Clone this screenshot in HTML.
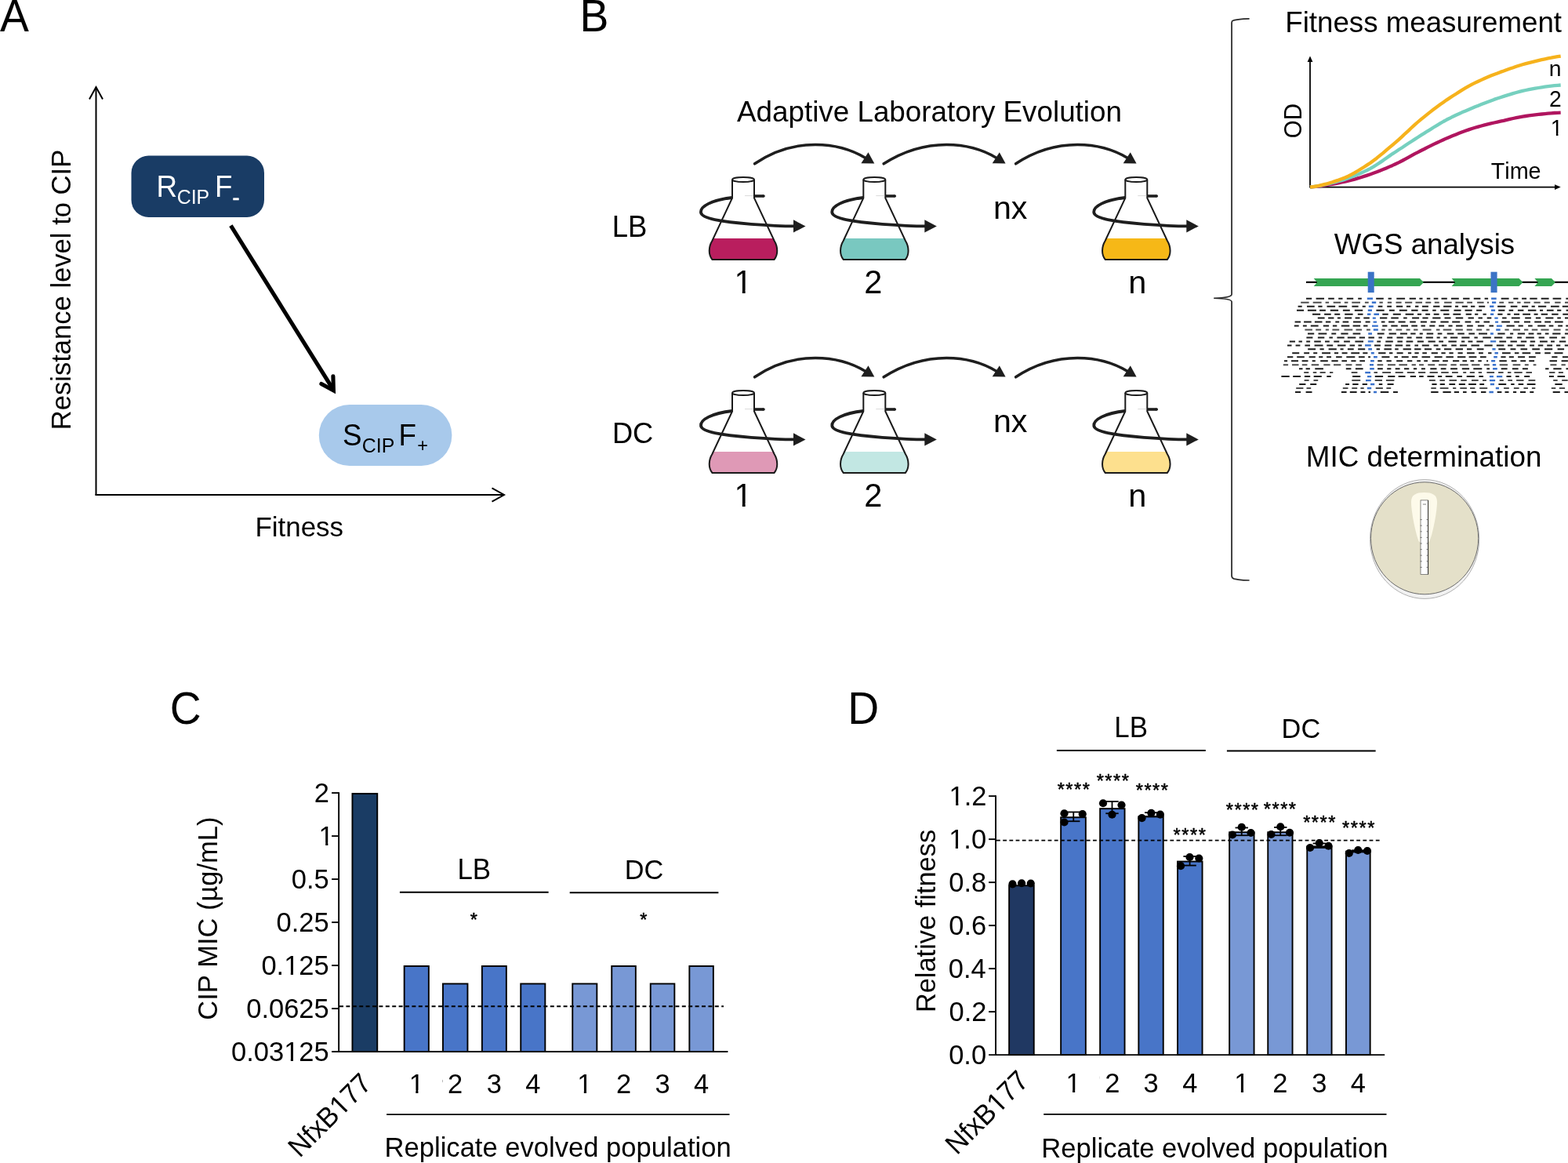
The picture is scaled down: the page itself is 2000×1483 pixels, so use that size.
<!DOCTYPE html>
<html><head><meta charset="utf-8"><title>Figure</title>
<style>html,body{margin:0;padding:0;background:#fff;} svg{display:block;} text{font-family:'Liberation Sans', Arial, sans-serif;font-kerning:none;}</style>
</head><body>
<svg width="2000" height="1483" viewBox="0 0 2000 1483">
<rect width="2000" height="1483" fill="#fff"/>
<g transform="matrix(1,0,0,1.041,0,-1.640)"><text x="-0.11" y="40.00" font-size="55.3" fill="#000" >A</text></g>
<g stroke="#000" stroke-width="2" fill="none">
<line x1="122.5" y1="111" x2="122.5" y2="631.5"/>
<polyline points="114,126.5 122.5,111 131,126.5"/>
<line x1="121.5" y1="631" x2="642" y2="631"/>
<polyline points="627.5,622.3 643,631 627.5,639.7"/>
</g>
<rect x="167.5" y="198.5" width="169.5" height="78.5" rx="22" fill="#193c65"/>
<rect x="406.8" y="516" width="169.6" height="78" rx="39" fill="#a8c9eb"/>
<g transform="matrix(1,0,0,1.041,0,-10.299)"><text x="199.48" y="251.20" font-size="36.8" fill="#fff" >R</text></g>
<g transform="matrix(1,0,0,1.041,0,-10.660)"><text x="225.74" y="260.00" font-size="24.9" fill="#fff" >CIP</text></g>
<g transform="matrix(1,0,0,1.041,0,-10.299)"><text x="273.98" y="251.20" font-size="36.8" fill="#fff" >F</text></g>
<g transform="matrix(1,0,0,1.041,0,-10.709)"><text x="296.40" y="261.20" font-size="27" fill="#fff" stroke="#fff" stroke-width="0.6">-</text></g>
<g transform="matrix(1,0,0,1.041,0,-23.300)"><text x="437.03" y="568.30" font-size="36.8" fill="#000" >S</text></g>
<g transform="matrix(1,0,0,1.041,0,-23.657)"><text x="461.74" y="577.00" font-size="24.9" fill="#000" >CIP</text></g>
<g transform="matrix(1,0,0,1.041,0,-23.300)"><text x="508.48" y="568.30" font-size="36.8" fill="#000" >F</text></g>
<g transform="matrix(1,0,0,1.041,0,-23.616)"><text x="532.15" y="576.00" font-size="23.5" fill="#000" >+</text></g>
<line x1="294.4" y1="287.7" x2="424.6" y2="496.2" stroke="#000" stroke-width="5.1"/>
<polyline points="409.9,489.4 425.4,497.9 424.9,479.9" fill="none" stroke="#000" stroke-width="5.1" stroke-linecap="round" stroke-linejoin="miter" stroke-miterlimit="10"/>
<text x="325.54" y="684.10" font-size="34.9" fill="#000" >Fitness</text>
<g transform="translate(89.70,548.24) rotate(-90)"><text x="0.00" y="0.00" font-size="34.6" fill="#000" >Resistance level to CIP</text></g>
<g transform="matrix(1,0,0,1.041,0,-1.640)"><text x="739.46" y="40.00" font-size="55.3" fill="#000" >B</text></g>
<text x="940.03" y="155.30" font-size="36.8" fill="#000" >Adaptive Laboratory Evolution</text>
<path d="M962.6,208.8 Q998.0,184.5 1040.0,184.5 Q1076.0,184.5 1104.0,201.5" fill="none" stroke="#1e1e1e" stroke-width="3.5" stroke-linecap="round"/>
<polygon points="1098.4,208.3 1107.5,194.2 1115.3,208.4" fill="#1e1e1e"/>
<path d="M1127.2,208.8 Q1165.3,184.5 1207.3,184.5 Q1243.3,184.5 1271.3,201.5" fill="none" stroke="#1e1e1e" stroke-width="3.5" stroke-linecap="round"/>
<polygon points="1265.7,208.3 1274.8,194.2 1282.6,208.4" fill="#1e1e1e"/>
<path d="M1295.6,208.8 Q1332.3,184.5 1374.3,184.5 Q1410.3,184.5 1438.3,201.5" fill="none" stroke="#1e1e1e" stroke-width="3.5" stroke-linecap="round"/>
<polygon points="1432.7,208.3 1441.8,194.2 1449.6,208.4" fill="#1e1e1e"/>
<path d="M909.8,304.0 L908.4,307.0 C903.5,315.0 903.5,325.0 908.5,331.0 L987.5,331.0 C992.5,325.0 992.5,315.0 987.6,307.0 L986.2,304.0 Z" fill="#b91e5e"/>
<path d="M934.0,229.0 L934.0,252.5 L908.4,307.0 C903.5,315.0 903.5,325.0 908.5,331.0 L987.5,331.0 C992.5,325.0 992.5,315.0 987.6,307.0 L962.0,252.5 L962.0,229.0" fill="none" stroke="#1a1a1a" stroke-width="2" stroke-linejoin="round"/>
<ellipse cx="948.0" cy="229.0" rx="14" ry="3" fill="#fff" stroke="#1a1a1a" stroke-width="1.8"/>
<line x1="950.0" y1="249.6" x2="961.0" y2="249.6" stroke="#cfcfcf" stroke-width="0.8"/>
<line x1="962.2" y1="250.0" x2="974.0" y2="250.0" stroke="#1e1e1e" stroke-width="3.6"/><circle cx="974.0" cy="250.0" r="1.8" fill="#1e1e1e"/>
<path d="M934.0,252.0 C908.0,255.0 893.0,263.0 894.0,271.0 C895.0,279.0 923.0,283.0 958.0,285.8 C983.0,287.6 998.0,288.3 1013.0,288.4" fill="none" stroke="#1e1e1e" stroke-width="3.8"/>
<polygon points="1012.0,280.3 1027.5,288.4 1012.0,296.5" fill="#1e1e1e"/>
<path d="M1077.1,304.0 L1075.7,307.0 C1070.8,315.0 1070.8,325.0 1075.8,331.0 L1154.8,331.0 C1159.8,325.0 1159.8,315.0 1154.9,307.0 L1153.5,304.0 Z" fill="#79c8c0"/>
<path d="M1101.3,229.0 L1101.3,252.5 L1075.7,307.0 C1070.8,315.0 1070.8,325.0 1075.8,331.0 L1154.8,331.0 C1159.8,325.0 1159.8,315.0 1154.9,307.0 L1129.3,252.5 L1129.3,229.0" fill="none" stroke="#1a1a1a" stroke-width="2" stroke-linejoin="round"/>
<ellipse cx="1115.3" cy="229.0" rx="14" ry="3" fill="#fff" stroke="#1a1a1a" stroke-width="1.8"/>
<line x1="1117.3" y1="249.6" x2="1128.3" y2="249.6" stroke="#cfcfcf" stroke-width="0.8"/>
<line x1="1129.5" y1="250.0" x2="1141.3" y2="250.0" stroke="#1e1e1e" stroke-width="3.6"/><circle cx="1141.3" cy="250.0" r="1.8" fill="#1e1e1e"/>
<path d="M1101.3,252.0 C1075.3,255.0 1060.3,263.0 1061.3,271.0 C1062.3,279.0 1090.3,283.0 1125.3,285.8 C1150.3,287.6 1165.3,288.3 1180.3,288.4" fill="none" stroke="#1e1e1e" stroke-width="3.8"/>
<polygon points="1179.3,280.3 1194.8,288.4 1179.3,296.5" fill="#1e1e1e"/>
<path d="M1411.1,304.0 L1409.7,307.0 C1404.8,315.0 1404.8,325.0 1409.8,331.0 L1488.8,331.0 C1493.8,325.0 1493.8,315.0 1488.9,307.0 L1487.5,304.0 Z" fill="#f6b817"/>
<path d="M1435.3,229.0 L1435.3,252.5 L1409.7,307.0 C1404.8,315.0 1404.8,325.0 1409.8,331.0 L1488.8,331.0 C1493.8,325.0 1493.8,315.0 1488.9,307.0 L1463.3,252.5 L1463.3,229.0" fill="none" stroke="#1a1a1a" stroke-width="2" stroke-linejoin="round"/>
<ellipse cx="1449.3" cy="229.0" rx="14" ry="3" fill="#fff" stroke="#1a1a1a" stroke-width="1.8"/>
<line x1="1451.3" y1="249.6" x2="1462.3" y2="249.6" stroke="#cfcfcf" stroke-width="0.8"/>
<line x1="1463.5" y1="250.0" x2="1475.3" y2="250.0" stroke="#1e1e1e" stroke-width="3.6"/><circle cx="1475.3" cy="250.0" r="1.8" fill="#1e1e1e"/>
<path d="M1435.3,252.0 C1409.3,255.0 1394.3,263.0 1395.3,271.0 C1396.3,279.0 1424.3,283.0 1459.3,285.8 C1484.3,287.6 1499.3,288.3 1514.3,288.4" fill="none" stroke="#1e1e1e" stroke-width="3.8"/>
<polygon points="1513.3,280.3 1528.8,288.4 1513.3,296.5" fill="#1e1e1e"/>
<g transform="matrix(1,0,0,1.041,0,-15.338)"><text x="936.45" y="374.10" font-size="41.5" fill="#000" >1</text><rect x="938.81" y="370.10" width="8.02" height="5.20" fill="#fff"/><rect x="950.61" y="370.10" width="7.75" height="5.20" fill="#fff"/></g>
<g transform="matrix(1,0,0,1.041,0,-15.338)"><text x="1102.26" y="374.10" font-size="41.5" fill="#000" >2</text></g>
<text x="1439.13" y="374.10" font-size="41.5" fill="#000" >n</text>
<text x="1266.96" y="279.20" font-size="41.2" fill="#000" >nx</text>
<path d="M962.6,480.8 Q998.0,456.5 1040.0,456.5 Q1076.0,456.5 1104.0,473.5" fill="none" stroke="#1e1e1e" stroke-width="3.5" stroke-linecap="round"/>
<polygon points="1098.4,480.3 1107.5,466.2 1115.3,480.4" fill="#1e1e1e"/>
<path d="M1127.2,480.8 Q1165.3,456.5 1207.3,456.5 Q1243.3,456.5 1271.3,473.5" fill="none" stroke="#1e1e1e" stroke-width="3.5" stroke-linecap="round"/>
<polygon points="1265.7,480.3 1274.8,466.2 1282.6,480.4" fill="#1e1e1e"/>
<path d="M1295.6,480.8 Q1332.3,456.5 1374.3,456.5 Q1410.3,456.5 1438.3,473.5" fill="none" stroke="#1e1e1e" stroke-width="3.5" stroke-linecap="round"/>
<polygon points="1432.7,480.3 1441.8,466.2 1449.6,480.4" fill="#1e1e1e"/>
<path d="M909.8,576.0 L908.4,579.0 C903.5,587.0 903.5,597.0 908.5,603.0 L987.5,603.0 C992.5,597.0 992.5,587.0 987.6,579.0 L986.2,576.0 Z" fill="#df99b6"/>
<path d="M934.0,501.0 L934.0,524.5 L908.4,579.0 C903.5,587.0 903.5,597.0 908.5,603.0 L987.5,603.0 C992.5,597.0 992.5,587.0 987.6,579.0 L962.0,524.5 L962.0,501.0" fill="none" stroke="#1a1a1a" stroke-width="2" stroke-linejoin="round"/>
<ellipse cx="948.0" cy="501.0" rx="14" ry="3" fill="#fff" stroke="#1a1a1a" stroke-width="1.8"/>
<line x1="950.0" y1="521.6" x2="961.0" y2="521.6" stroke="#cfcfcf" stroke-width="0.8"/>
<line x1="962.2" y1="522.0" x2="974.0" y2="522.0" stroke="#1e1e1e" stroke-width="3.6"/><circle cx="974.0" cy="522.0" r="1.8" fill="#1e1e1e"/>
<path d="M934.0,524.0 C908.0,527.0 893.0,535.0 894.0,543.0 C895.0,551.0 923.0,555.0 958.0,557.8 C983.0,559.6 998.0,560.3 1013.0,560.4" fill="none" stroke="#1e1e1e" stroke-width="3.8"/>
<polygon points="1012.0,552.3 1027.5,560.4 1012.0,568.5" fill="#1e1e1e"/>
<path d="M1077.1,576.0 L1075.7,579.0 C1070.8,587.0 1070.8,597.0 1075.8,603.0 L1154.8,603.0 C1159.8,597.0 1159.8,587.0 1154.9,579.0 L1153.5,576.0 Z" fill="#c2e7e3"/>
<path d="M1101.3,501.0 L1101.3,524.5 L1075.7,579.0 C1070.8,587.0 1070.8,597.0 1075.8,603.0 L1154.8,603.0 C1159.8,597.0 1159.8,587.0 1154.9,579.0 L1129.3,524.5 L1129.3,501.0" fill="none" stroke="#1a1a1a" stroke-width="2" stroke-linejoin="round"/>
<ellipse cx="1115.3" cy="501.0" rx="14" ry="3" fill="#fff" stroke="#1a1a1a" stroke-width="1.8"/>
<line x1="1117.3" y1="521.6" x2="1128.3" y2="521.6" stroke="#cfcfcf" stroke-width="0.8"/>
<line x1="1129.5" y1="522.0" x2="1141.3" y2="522.0" stroke="#1e1e1e" stroke-width="3.6"/><circle cx="1141.3" cy="522.0" r="1.8" fill="#1e1e1e"/>
<path d="M1101.3,524.0 C1075.3,527.0 1060.3,535.0 1061.3,543.0 C1062.3,551.0 1090.3,555.0 1125.3,557.8 C1150.3,559.6 1165.3,560.3 1180.3,560.4" fill="none" stroke="#1e1e1e" stroke-width="3.8"/>
<polygon points="1179.3,552.3 1194.8,560.4 1179.3,568.5" fill="#1e1e1e"/>
<path d="M1411.1,576.0 L1409.7,579.0 C1404.8,587.0 1404.8,597.0 1409.8,603.0 L1488.8,603.0 C1493.8,597.0 1493.8,587.0 1488.9,579.0 L1487.5,576.0 Z" fill="#fde08e"/>
<path d="M1435.3,501.0 L1435.3,524.5 L1409.7,579.0 C1404.8,587.0 1404.8,597.0 1409.8,603.0 L1488.8,603.0 C1493.8,597.0 1493.8,587.0 1488.9,579.0 L1463.3,524.5 L1463.3,501.0" fill="none" stroke="#1a1a1a" stroke-width="2" stroke-linejoin="round"/>
<ellipse cx="1449.3" cy="501.0" rx="14" ry="3" fill="#fff" stroke="#1a1a1a" stroke-width="1.8"/>
<line x1="1451.3" y1="521.6" x2="1462.3" y2="521.6" stroke="#cfcfcf" stroke-width="0.8"/>
<line x1="1463.5" y1="522.0" x2="1475.3" y2="522.0" stroke="#1e1e1e" stroke-width="3.6"/><circle cx="1475.3" cy="522.0" r="1.8" fill="#1e1e1e"/>
<path d="M1435.3,524.0 C1409.3,527.0 1394.3,535.0 1395.3,543.0 C1396.3,551.0 1424.3,555.0 1459.3,557.8 C1484.3,559.6 1499.3,560.3 1514.3,560.4" fill="none" stroke="#1e1e1e" stroke-width="3.8"/>
<polygon points="1513.3,552.3 1528.8,560.4 1513.3,568.5" fill="#1e1e1e"/>
<g transform="matrix(1,0,0,1.041,0,-26.490)"><text x="936.45" y="646.10" font-size="41.5" fill="#000" >1</text><rect x="938.81" y="642.10" width="8.02" height="5.20" fill="#fff"/><rect x="950.61" y="642.10" width="7.75" height="5.20" fill="#fff"/></g>
<g transform="matrix(1,0,0,1.041,0,-26.490)"><text x="1102.26" y="646.10" font-size="41.5" fill="#000" >2</text></g>
<text x="1439.13" y="646.10" font-size="41.5" fill="#000" >n</text>
<text x="1266.96" y="551.20" font-size="41.2" fill="#000" >nx</text>
<g transform="matrix(1,0,0,1.041,0,-12.372)"><text x="780.81" y="301.75" font-size="36.5" fill="#000" >LB</text></g>
<g transform="matrix(1,0,0,1.041,0,-23.161)"><text x="780.92" y="564.90" font-size="36.3" fill="#000" >DC</text></g>
<path d="M1593.6,23.9 L1586,24.1 C1580,24.6 1575,25.4 1572.6,26.3 C1571.3,26.9 1571.05,27.8 1571.05,29 L1571.05,375.3 C1571.05,378.6 1561,380 1548.2,380.25 C1561,380.5 1571.05,381.6 1571.05,384.8 L1571.05,734.3 C1571.05,736.4 1572,737.5 1574.2,738.2 C1577.2,739 1581,739.6 1586,739.8 L1593.6,740" fill="none" stroke="#2a2a2a" stroke-width="1.75"/>
<text x="1639.29" y="41.40" font-size="36.7" fill="#000" >Fitness measurement</text>
<g stroke="#000" stroke-width="1.8" fill="none"><line x1="1671" y1="238.6" x2="1671" y2="78"/><line x1="1670.2" y1="238.6" x2="1985" y2="238.6"/></g>
<polygon points="1671,71.6 1667.6,79 1674.4,79" fill="#000"/>
<polygon points="1990.7,238.6 1983,235.2 1983,242" fill="#000"/>
<path d="M1671.0,238.6 L1675.0,238.2 L1679.1,237.8 L1683.1,237.3 L1687.2,236.7 L1691.2,236.1 L1695.3,235.5 L1699.3,234.8 L1703.4,234.1 L1707.4,233.3 L1711.5,232.5 L1715.5,231.7 L1719.6,230.7 L1723.6,229.7 L1727.7,228.6 L1731.7,227.4 L1735.7,226.2 L1739.8,224.9 L1743.8,223.6 L1747.9,222.2 L1751.9,220.8 L1756.0,219.3 L1760.0,217.7 L1764.1,216.1 L1768.1,214.4 L1772.2,212.6 L1776.2,210.9 L1780.3,209.0 L1784.3,207.1 L1788.4,205.0 L1792.4,202.8 L1796.5,200.6 L1800.5,198.4 L1804.5,196.2 L1808.6,194.1 L1812.6,192.0 L1816.7,190.0 L1820.7,187.9 L1824.8,185.9 L1828.8,183.9 L1832.9,182.0 L1836.9,180.1 L1841.0,178.2 L1845.0,176.4 L1849.1,174.7 L1853.1,173.1 L1857.2,171.4 L1861.2,169.8 L1865.2,168.3 L1869.3,166.8 L1873.3,165.4 L1877.4,164.0 L1881.4,162.8 L1885.5,161.6 L1889.5,160.5 L1893.6,159.4 L1897.6,158.4 L1901.7,157.4 L1905.7,156.5 L1909.8,155.6 L1913.8,154.7 L1917.9,153.8 L1921.9,152.8 L1926.0,151.9 L1930.0,151.0 L1934.0,150.2 L1938.1,149.4 L1942.1,148.6 L1946.2,148.0 L1950.2,147.4 L1954.3,146.9 L1958.3,146.4 L1962.4,145.9 L1966.4,145.5 L1970.5,145.1 L1974.5,144.7 L1978.6,144.3 L1982.6,144.0 L1986.7,143.8 L1990.7,143.6" fill="none" stroke="#b0155f" stroke-width="4.3" stroke-linejoin="round"/>
<path d="M1671.0,238.6 L1675.0,238.1 L1679.1,237.5 L1683.1,236.8 L1687.2,236.0 L1691.2,235.1 L1695.3,234.1 L1699.3,233.1 L1703.4,232.1 L1707.4,231.0 L1711.5,229.9 L1715.5,228.6 L1719.6,227.3 L1723.6,225.8 L1727.7,224.2 L1731.7,222.6 L1735.7,220.8 L1739.8,218.9 L1743.8,217.0 L1747.9,214.9 L1751.9,212.6 L1756.0,210.0 L1760.0,207.4 L1764.1,204.6 L1768.1,201.7 L1772.2,198.9 L1776.2,196.1 L1780.3,193.5 L1784.3,190.8 L1788.4,188.2 L1792.4,185.5 L1796.5,182.8 L1800.5,180.2 L1804.5,177.6 L1808.6,175.0 L1812.6,172.4 L1816.7,169.9 L1820.7,167.3 L1824.8,164.8 L1828.8,162.3 L1832.9,159.8 L1836.9,157.4 L1841.0,155.0 L1845.0,152.8 L1849.1,150.8 L1853.1,148.7 L1857.2,146.8 L1861.2,145.0 L1865.2,143.1 L1869.3,141.4 L1873.3,139.7 L1877.4,138.0 L1881.4,136.3 L1885.5,134.7 L1889.5,133.1 L1893.6,131.5 L1897.6,129.9 L1901.7,128.4 L1905.7,126.9 L1909.8,125.5 L1913.8,124.2 L1917.9,122.9 L1921.9,121.6 L1926.0,120.4 L1930.0,119.1 L1934.0,118.0 L1938.1,116.9 L1942.1,115.9 L1946.2,115.0 L1950.2,114.2 L1954.3,113.4 L1958.3,112.7 L1962.4,112.0 L1966.4,111.3 L1970.5,110.7 L1974.5,110.2 L1978.6,109.6 L1982.6,109.2 L1986.7,108.8 L1990.7,108.5" fill="none" stroke="#76d0bf" stroke-width="4.3" stroke-linejoin="round"/>
<path d="M1671.0,238.6 L1675.0,238.1 L1679.1,237.5 L1683.1,236.7 L1687.2,235.7 L1691.2,234.7 L1695.3,233.5 L1699.3,232.3 L1703.4,230.9 L1707.4,229.6 L1711.5,228.1 L1715.5,226.5 L1719.6,224.7 L1723.6,222.6 L1727.7,220.4 L1731.7,218.0 L1735.7,215.5 L1739.8,213.0 L1743.8,210.4 L1747.9,207.7 L1751.9,204.8 L1756.0,201.7 L1760.0,198.4 L1764.1,195.1 L1768.1,191.7 L1772.2,188.2 L1776.2,184.8 L1780.3,181.3 L1784.3,177.8 L1788.4,174.1 L1792.4,170.3 L1796.5,166.6 L1800.5,162.8 L1804.5,159.1 L1808.6,155.5 L1812.6,152.1 L1816.7,148.8 L1820.7,145.6 L1824.8,142.4 L1828.8,139.3 L1832.9,136.3 L1836.9,133.3 L1841.0,130.4 L1845.0,127.6 L1849.1,124.9 L1853.1,122.3 L1857.2,119.7 L1861.2,117.1 L1865.2,114.6 L1869.3,112.2 L1873.3,109.9 L1877.4,107.7 L1881.4,105.7 L1885.5,103.7 L1889.5,101.9 L1893.6,100.0 L1897.6,98.3 L1901.7,96.6 L1905.7,95.0 L1909.8,93.5 L1913.8,91.9 L1917.9,90.5 L1921.9,89.0 L1926.0,87.5 L1930.0,86.2 L1934.0,84.8 L1938.1,83.5 L1942.1,82.3 L1946.2,81.1 L1950.2,80.1 L1954.3,79.1 L1958.3,78.1 L1962.4,77.1 L1966.4,76.2 L1970.5,75.3 L1974.5,74.4 L1978.6,73.7 L1982.6,72.9 L1986.7,72.2 L1990.7,71.6" fill="none" stroke="#f6b21c" stroke-width="4.3" stroke-linejoin="round"/>
<text x="1975.80" y="96.90" font-size="28.3" fill="#000" >n</text>
<g transform="matrix(1,0,0,1.041,0,-5.596)"><text x="1975.98" y="136.50" font-size="28.3" fill="#000" >2</text></g>
<g transform="matrix(1,0,0,1.041,0,-7.097)"><text x="1977.78" y="173.10" font-size="28.3" fill="#000" >1</text><rect x="1979.14" y="170.09" width="5.71" height="4.21" fill="#fff"/><rect x="1987.45" y="170.09" width="5.54" height="4.21" fill="#fff"/></g>
<text x="1901.65" y="227.50" font-size="28.8" fill="#000" >Time</text>
<g transform="translate(1659.60,176.20) rotate(-90) matrix(1,0,0,1.041,0,0.000)"><text x="0.00" y="0.00" font-size="29.5" fill="#000" >OD</text></g>
<text x="1701.84" y="323.70" font-size="36.7" fill="#000" >WGS analysis</text>
<line x1="1666" y1="359.9" x2="2000" y2="359.9" stroke="#000" stroke-width="2.1"/>
<polygon points="1675.7,355.0 1811,355.0 1816,360.0 1811,365.0 1675.7,365.0 1680.1000000000001,360.0" fill="#35a552"/>
<polygon points="1851.6,355.0 1937.5,355.0 1942.5,360.0 1937.5,365.0 1851.6,365.0 1856.0,360.0" fill="#35a552"/>
<polygon points="1957.4,355.0 1979,355.0 1984,360.0 1979,365.0 1957.4,365.0 1961.8000000000002,360.0" fill="#35a552"/>
<rect x="1744.7" y="346.7" width="8" height="26.4" fill="#3b73c6"/>
<rect x="1901.5" y="346.7" width="8.1" height="26.4" fill="#3b73c6"/>
<path d="M1666.0,380.8H1673.2M1678.6,380.8H1689.0M1694.2,380.8H1701.8M1707.2,380.8H1712.5M1717.8,380.8H1726.2M1732.2,380.8H1736.8M1755.2,380.8H1764.8M1770.6,380.8H1774.9M1781.3,380.8H1792.1M1797.7,380.8H1806.0M1810.4,380.8H1814.5M1819.8,380.8H1824.3M1828.7,380.8H1834.4M1838.5,380.8H1845.8M1850.9,380.8H1860.8M1866.1,380.8H1874.5M1879.8,380.8H1888.4M1893.6,380.8H1898.1M1914.7,380.8H1924.6M1930.3,380.8H1936.5M1941.1,380.8H1947.1M1951.3,380.8H1960.7M1965.7,380.8H1975.6M1980.6,380.8H1991.3M1997.4,380.8H2000.0" stroke="#1c1c1c" stroke-width="2" fill="none"/>
<path d="M1743.8,380.8H1751.0M1902.1,380.8H1908.7" stroke="#3a72cc" stroke-width="2.4" fill="none"/>
<path d="M1659.2,385.8H1669.6M1674.7,385.8H1685.6M1690.6,385.8H1695.1M1700.7,385.8H1710.1M1714.8,385.8H1719.4M1724.3,385.8H1735.0M1740.9,385.8H1745.7M1759.4,385.8H1763.8M1769.8,385.8H1775.1M1780.5,385.8H1787.6M1792.1,385.8H1801.2M1805.5,385.8H1814.0M1818.3,385.8H1825.3M1829.8,385.8H1835.7M1842.1,385.8H1851.7M1856.5,385.8H1866.7M1871.2,385.8H1878.0M1884.1,385.8H1892.6M1896.9,385.8H1899.0M1912.3,385.8H1918.1M1924.0,385.8H1930.4M1935.1,385.8H1939.6M1943.8,385.8H1951.9M1956.5,385.8H1964.7M1969.7,385.8H1976.8M1983.2,385.8H1990.6M1996.0,385.8H2000.0" stroke="#4d4d4d" stroke-width="2" fill="none"/>
<path d="M1749.8,385.8H1755.2M1903.0,385.8H1908.2" stroke="#3a72cc" stroke-width="2.4" fill="none"/>
<path d="M1655.6,390.7H1660.7M1667.0,390.7H1676.7M1681.3,390.7H1686.6M1692.5,390.7H1703.1M1707.5,390.7H1718.2M1724.4,390.7H1732.6M1737.7,390.7H1741.8M1757.7,390.7H1763.4M1769.2,390.7H1775.0M1781.0,390.7H1789.2M1793.9,390.7H1799.2M1805.0,390.7H1809.4M1814.0,390.7H1821.9M1828.1,390.7H1836.4M1841.1,390.7H1851.5M1856.0,390.7H1860.1M1864.8,390.7H1871.9M1876.0,390.7H1881.3M1886.2,390.7H1894.2M1910.1,390.7H1920.4M1926.8,390.7H1935.4M1941.1,390.7H1949.2M1953.6,390.7H1957.8M1961.9,390.7H1972.2M1978.0,390.7H1988.7M1992.8,390.7H2000.0" stroke="#1c1c1c" stroke-width="2" fill="none"/>
<path d="M1745.8,390.7H1751.8M1900.1,390.7H1905.4" stroke="#3a72cc" stroke-width="2.4" fill="none"/>
<path d="M1654.0,395.7H1663.1M1667.9,395.7H1678.9M1683.1,395.7H1690.9M1696.8,395.7H1707.1M1712.9,395.7H1721.8M1727.8,395.7H1738.2M1755.4,395.7H1765.7M1771.9,395.7H1778.8M1784.8,395.7H1794.8M1800.2,395.7H1808.6M1813.6,395.7H1821.6M1827.2,395.7H1831.7M1837.3,395.7H1848.3M1854.5,395.7H1863.6M1868.5,395.7H1877.7M1883.1,395.7H1890.2M1911.2,395.7H1919.4M1924.6,395.7H1930.2M1935.9,395.7H1943.4M1948.9,395.7H1959.4M1964.0,395.7H1968.1M1972.9,395.7H1981.6M1986.1,395.7H1991.3M1997.6,395.7H2000.0" stroke="#1c1c1c" stroke-width="2" fill="none"/>
<path d="M1744.8,395.7H1750.0M1901.9,395.7H1907.1" stroke="#3a72cc" stroke-width="2.4" fill="none"/>
<path d="M1674.0,400.7H1684.2M1689.1,400.7H1697.7M1702.2,400.7H1709.2M1715.2,400.7H1725.6M1731.8,400.7H1738.5M1763.3,400.7H1770.7M1776.8,400.7H1786.8M1792.6,400.7H1803.2M1807.9,400.7H1813.1M1818.2,400.7H1824.1M1828.7,400.7H1835.6M1841.1,400.7H1848.6M1853.4,400.7H1863.3M1869.7,400.7H1876.9M1881.1,400.7H1885.3M1891.5,400.7H1895.8M1910.3,400.7H1916.5M1922.5,400.7H1926.6M1931.0,400.7H1938.1M1942.2,400.7H1952.0M1956.6,400.7H1961.6M1965.7,400.7H1974.1M1979.2,400.7H1987.6M1993.3,400.7H2000.0" stroke="#1c1c1c" stroke-width="2" fill="none"/>
<path d="M1744.0,400.7H1748.4M1752.4,400.7H1759.0M1901.0,400.7H1905.2" stroke="#3a72cc" stroke-width="2.4" fill="none"/>
<path d="M1680.8,405.6H1689.6M1694.1,405.6H1701.4M1705.9,405.6H1709.9M1715.1,405.6H1724.1M1728.6,405.6H1734.5M1739.3,405.6H1746.8M1760.0,405.6H1769.3M1774.3,405.6H1783.8M1790.1,405.6H1794.7M1801.1,405.6H1810.1M1814.4,405.6H1821.6M1827.2,405.6H1837.5M1842.5,405.6H1850.5M1856.7,405.6H1866.2M1872.6,405.6H1879.9M1885.5,405.6H1890.9M1896.7,405.6H1902.3M1916.1,405.6H1921.6M1927.9,405.6H1938.7M1945.2,405.6H1952.9M1958.9,405.6H1965.2M1971.4,405.6H1981.4M1986.3,405.6H1990.9M1996.0,405.6H2000.0" stroke="#1c1c1c" stroke-width="2" fill="none"/>
<path d="M1750.8,405.6H1754.8M1906.3,405.6H1910.7" stroke="#3a72cc" stroke-width="2.4" fill="none"/>
<path d="M1651.6,410.6H1659.0M1663.1,410.6H1672.7M1676.9,410.6H1686.5M1690.9,410.6H1697.3M1703.3,410.6H1708.2M1712.6,410.6H1720.2M1726.0,410.6H1735.9M1741.6,410.6H1747.6M1761.9,410.6H1766.5M1771.1,410.6H1778.7M1783.5,410.6H1792.6M1798.2,410.6H1805.8M1811.9,410.6H1819.9M1824.6,410.6H1831.3M1837.4,410.6H1847.7M1852.2,410.6H1862.2M1868.6,410.6H1876.3M1881.7,410.6H1887.1M1892.5,410.6H1900.0M1915.2,410.6H1925.9M1931.2,410.6H1938.0M1944.0,410.6H1952.0M1957.2,410.6H1966.0M1970.2,410.6H1978.0M1983.0,410.6H1993.7" stroke="#1c1c1c" stroke-width="2" fill="none"/>
<path d="M1751.6,410.6H1756.0M1907.1,410.6H1911.1" stroke="#3a72cc" stroke-width="2.4" fill="none"/>
<path d="M1650.8,415.6H1656.7M1661.9,415.6H1666.8M1671.8,415.6H1681.6M1687.8,415.6H1695.1M1699.9,415.6H1705.3M1710.8,415.6H1721.3M1725.6,415.6H1735.1M1739.1,415.6H1744.5M1763.2,415.6H1769.4M1774.3,415.6H1782.7M1786.9,415.6H1796.0M1800.3,415.6H1807.9M1812.5,415.6H1817.9M1823.3,415.6H1830.3M1835.2,415.6H1842.1M1847.5,415.6H1852.6M1857.1,415.6H1865.5M1871.1,415.6H1878.8M1884.9,415.6H1893.2M1899.4,415.6H1905.0M1921.5,415.6H1931.8M1936.6,415.6H1942.8M1949.1,415.6H1954.7M1961.2,415.6H1971.4M1975.7,415.6H1981.4M1987.2,415.6H1993.0M1997.3,415.6H2000.0" stroke="#1c1c1c" stroke-width="2" fill="none"/>
<path d="M1750.0,415.6H1757.8M1908.9,415.6H1915.9" stroke="#3a72cc" stroke-width="2.4" fill="none"/>
<path d="M1664.4,420.5H1673.9M1678.2,420.5H1685.1M1690.8,420.5H1694.9M1699.4,420.5H1708.2M1714.5,420.5H1725.2M1729.5,420.5H1737.1M1743.0,420.5H1747.8M1762.2,420.5H1766.7M1770.9,420.5H1775.2M1780.6,420.5H1788.2M1793.6,420.5H1798.6M1803.1,420.5H1808.5M1814.6,420.5H1825.6M1831.9,420.5H1836.5M1840.7,420.5H1851.4M1856.5,420.5H1865.9M1870.7,420.5H1877.9M1883.2,420.5H1890.2M1895.7,420.5H1899.8M1919.4,420.5H1924.7M1929.8,420.5H1939.0M1944.0,420.5H1949.3M1953.8,420.5H1961.3M1965.4,420.5H1975.6M1981.6,420.5H1990.6M1996.7,420.5H2000.0" stroke="#4d4d4d" stroke-width="2" fill="none"/>
<path d="M1751.8,420.5H1757.8M1908.2,420.5H1913.7" stroke="#3a72cc" stroke-width="2.4" fill="none"/>
<path d="M1668.0,425.5H1676.2M1681.5,425.5H1692.3M1698.3,425.5H1704.2M1710.4,425.5H1719.6M1725.6,425.5H1735.3M1756.8,425.5H1765.6M1771.6,425.5H1780.9M1785.9,425.5H1795.0M1799.2,425.5H1805.6M1810.7,425.5H1814.8M1819.7,425.5H1828.2M1833.7,425.5H1839.4M1845.7,425.5H1854.4M1859.2,425.5H1867.8M1873.3,425.5H1881.0M1886.0,425.5H1897.0M1910.3,425.5H1919.6M1926.1,425.5H1930.2M1935.8,425.5H1945.0M1949.6,425.5H1956.4M1960.5,425.5H1965.9M1970.8,425.5H1975.5M1980.2,425.5H1990.5M1995.9,425.5H2000.0" stroke="#1c1c1c" stroke-width="2" fill="none"/>
<path d="M1745.2,425.5H1750.0M1901.0,425.5H1904.9" stroke="#3a72cc" stroke-width="2.4" fill="none"/>
<path d="M1666.4,430.4H1674.4M1680.9,430.4H1689.3M1695.4,430.4H1699.9M1705.4,430.4H1714.7M1718.8,430.4H1729.3M1733.7,430.4H1741.0M1745.4,430.4H1752.9M1758.4,430.4H1762.9M1769.2,430.4H1776.2M1781.5,430.4H1789.7M1794.6,430.4H1800.6M1806.2,430.4H1814.1M1818.8,430.4H1827.9M1832.6,430.4H1836.7M1841.3,430.4H1845.6M1850.0,430.4H1859.3M1864.3,430.4H1874.5M1880.4,430.4H1884.8M1891.2,430.4H1901.8M1906.0,430.4H1916.4M1921.4,430.4H1928.8M1935.2,430.4H1940.9M1946.2,430.4H1956.8M1962.6,430.4H1969.9M1976.3,430.4H1986.0M1991.6,430.4H1996.4" stroke="#1c1c1c" stroke-width="2" fill="none"/>
<path d="M1644.8,435.4H1652.0M1656.5,435.4H1660.9M1666.2,435.4H1671.1M1676.2,435.4H1684.8M1690.0,435.4H1695.8M1701.3,435.4H1708.2M1714.1,435.4H1721.9M1728.4,435.4H1739.0M1756.3,435.4H1761.1M1767.3,435.4H1776.8M1782.4,435.4H1788.9M1793.6,435.4H1802.3M1807.8,435.4H1815.9M1821.5,435.4H1830.8M1835.2,435.4H1841.0M1847.4,435.4H1857.8M1864.0,435.4H1868.3M1872.5,435.4H1878.4M1883.4,435.4H1891.8M1912.4,435.4H1921.1M1926.5,435.4H1934.9M1939.8,435.4H1947.2M1951.7,435.4H1958.1M1964.0,435.4H1973.8M1978.0,435.4H1982.9M1988.9,435.4H1997.3" stroke="#1c1c1c" stroke-width="2" fill="none"/>
<path d="M1744.8,435.4H1751.8M1901.0,435.4H1908.2" stroke="#3a72cc" stroke-width="2.4" fill="none"/>
<path d="M1642.0,440.4H1647.5M1652.6,440.4H1658.4M1664.4,440.4H1671.0M1676.6,440.4H1687.5M1692.3,440.4H1700.2M1706.0,440.4H1716.5M1721.6,440.4H1728.1M1732.4,440.4H1737.0M1753.0,440.4H1760.9M1766.1,440.4H1774.9M1779.7,440.4H1789.1M1793.3,440.4H1798.8M1804.4,440.4H1809.0M1813.8,440.4H1822.8M1828.6,440.4H1834.6M1838.9,440.4H1845.4M1851.2,440.4H1857.8M1862.1,440.4H1871.1M1876.5,440.4H1886.9M1893.3,440.4H1903.7M1908.8,440.4H1918.4M1923.1,440.4H1929.4M1934.4,440.4H1944.9M1951.1,440.4H1956.9M1961.8,440.4H1968.3M1973.2,440.4H1980.0M1985.0,440.4H1990.3M1995.8,440.4H2000.0" stroke="#1c1c1c" stroke-width="2" fill="none"/>
<path d="M1741.0,440.4H1748.8" stroke="#3a72cc" stroke-width="2.4" fill="none"/>
<path d="M1668.2,445.3H1678.1M1683.5,445.3H1688.7M1694.6,445.3H1704.8M1709.5,445.3H1713.6M1718.9,445.3H1726.7M1732.1,445.3H1741.2M1755.6,445.3H1760.1M1765.4,445.3H1774.9M1779.2,445.3H1783.7M1789.6,445.3H1799.9M1804.1,445.3H1812.5M1816.9,445.3H1826.1M1831.7,445.3H1837.4M1842.0,445.3H1851.3M1856.6,445.3H1866.0M1871.0,445.3H1877.3M1883.8,445.3H1892.5M1911.3,445.3H1920.2M1926.5,445.3H1933.4M1939.5,445.3H1948.1M1954.3,445.3H1963.9M1970.0,445.3H1980.2M1986.6,445.3H1995.1" stroke="#1c1c1c" stroke-width="2" fill="none"/>
<path d="M1745.2,445.3H1750.0M1903.4,445.3H1907.6" stroke="#3a72cc" stroke-width="2.4" fill="none"/>
<path d="M1648.2,450.3H1657.2M1663.2,450.3H1670.1M1675.2,450.3H1680.2M1686.1,450.3H1697.0M1701.9,450.3H1707.1M1711.6,450.3H1718.6M1723.3,450.3H1734.1M1738.3,450.3H1744.4M1758.1,450.3H1767.5M1772.0,450.3H1776.4M1781.6,450.3H1789.6M1795.9,450.3H1800.2M1804.4,450.3H1809.7M1814.3,450.3H1819.9M1825.7,450.3H1833.9M1838.4,450.3H1843.7M1848.4,450.3H1853.7M1859.5,450.3H1865.7M1871.1,450.3H1880.8M1886.0,450.3H1891.8M1898.1,450.3H1902.5M1916.0,450.3H1926.7M1931.9,450.3H1937.4M1941.6,450.3H1952.2M1958.2,450.3H1964.9M1970.2,450.3H1977.8M1982.5,450.3H1993.5" stroke="#1c1c1c" stroke-width="2" fill="none"/>
<path d="M1748.8,450.3H1752.8M1906.5,450.3H1910.9" stroke="#3a72cc" stroke-width="2.4" fill="none"/>
<path d="M1642.0,455.3H1649.3M1654.2,455.3H1663.8M1669.6,455.3H1677.8M1682.2,455.3H1687.3M1692.1,455.3H1698.0M1704.1,455.3H1711.7M1717.3,455.3H1728.3M1732.9,455.3H1740.7M1745.1,455.3H1748.0M1762.4,455.3H1772.4M1778.4,455.3H1783.0M1787.7,455.3H1796.7M1800.9,455.3H1808.3M1813.5,455.3H1824.2M1829.6,455.3H1839.6M1844.4,455.3H1853.9M1858.9,455.3H1869.4M1873.6,455.3H1883.4M1887.9,455.3H1895.7M1914.4,455.3H1920.6M1924.8,455.3H1930.9M1936.1,455.3H1945.1M1950.0,455.3H1958.8M1979.3,455.3H1986.5M1992.9,455.3H2000.0" stroke="#1c1c1c" stroke-width="2" fill="none"/>
<path d="M1752.0,455.3H1756.8M1905.2,455.3H1909.8" stroke="#3a72cc" stroke-width="2.4" fill="none"/>
<path d="M1638.0,460.2H1642.1M1647.0,460.2H1656.0M1660.6,460.2H1668.5M1673.7,460.2H1677.8M1684.2,460.2H1693.8M1698.4,460.2H1706.7M1711.4,460.2H1718.0M1723.4,460.2H1729.5M1734.3,460.2H1741.0M1757.3,460.2H1762.7M1768.5,460.2H1774.8M1781.2,460.2H1789.1M1795.0,460.2H1801.3M1807.3,460.2H1812.0M1816.3,460.2H1821.0M1826.7,460.2H1835.7M1840.1,460.2H1846.9M1853.0,460.2H1861.2M1865.4,460.2H1871.0M1875.4,460.2H1880.2M1885.3,460.2H1889.8M1896.1,460.2H1898.1M1912.4,460.2H1921.8M1927.8,460.2H1934.5M1939.3,460.2H1946.2M1950.3,460.2H1957.1M1976.5,460.2H1986.0M1991.6,460.2H1999.9" stroke="#1c1c1c" stroke-width="2" fill="none"/>
<path d="M1748.0,460.2H1752.8M1902.1,460.2H1907.1" stroke="#3a72cc" stroke-width="2.4" fill="none"/>
<path d="M1636.8,465.2H1643.1M1648.0,465.2H1656.5M1660.8,465.2H1667.4M1672.7,465.2H1682.2M1688.3,465.2H1696.6M1701.0,465.2H1710.3M1716.6,465.2H1724.4M1729.3,465.2H1736.8M1756.6,465.2H1764.2M1770.0,465.2H1779.9M1784.4,465.2H1795.0M1800.6,465.2H1805.9M1810.1,465.2H1815.9M1821.3,465.2H1830.2M1835.0,465.2H1845.5M1850.4,465.2H1857.7M1862.0,465.2H1872.8M1877.1,465.2H1887.4M1892.8,465.2H1899.8M1912.7,465.2H1923.1M1929.6,465.2H1939.3M1944.8,465.2H1949.7M1955.7,465.2H1959.4M1977.4,465.2H1985.4M1991.5,465.2H1996.8" stroke="#4d4d4d" stroke-width="2" fill="none"/>
<path d="M1747.0,465.2H1752.0M1903.8,465.2H1908.2" stroke="#3a72cc" stroke-width="2.4" fill="none"/>
<path d="M1657.0,470.2H1661.5M1665.6,470.2H1670.9M1677.3,470.2H1687.9M1716.8,470.2H1723.4M1728.9,470.2H1738.6M1757.1,470.2H1763.8M1769.2,470.2H1774.4M1779.7,470.2H1785.6M1791.0,470.2H1797.3M1802.9,470.2H1807.2M1812.9,470.2H1817.9M1824.3,470.2H1832.5M1837.7,470.2H1844.5M1850.1,470.2H1858.9M1864.8,470.2H1874.1M1879.3,470.2H1890.3M1896.3,470.2H1900.1M1914.7,470.2H1922.6M1928.9,470.2H1936.6M1941.9,470.2H1948.9M1971.1,470.2H1975.5M1981.3,470.2H1991.6M1997.5,470.2H2000.0" stroke="#1c1c1c" stroke-width="2" fill="none"/>
<path d="M1747.2,470.2H1752.8M1904.1,470.2H1909.8" stroke="#3a72cc" stroke-width="2.4" fill="none"/>
<path d="M1663.2,475.1H1669.3M1674.8,475.1H1679.3M1683.6,475.1H1690.7M1696.0,475.1H1700.3M1723.7,475.1H1731.4M1752.5,475.1H1757.0M1763.2,475.1H1774.0M1779.7,475.1H1789.7M1794.8,475.1H1804.4M1809.0,475.1H1818.2M1823.6,475.1H1833.9M1838.2,475.1H1847.7M1852.0,475.1H1859.8M1866.2,475.1H1870.2M1874.8,475.1H1880.9M1885.7,475.1H1890.1M1896.4,475.1H1906.1M1911.1,475.1H1917.6M1923.0,475.1H1927.4M1931.4,475.1H1941.7M1946.5,475.1H1954.0M1976.1,475.1H1983.4M1987.9,475.1H1993.9" stroke="#4d4d4d" stroke-width="2" fill="none"/>
<path d="M1741.2,475.1H1748.0" stroke="#3a72cc" stroke-width="2.4" fill="none"/>
<path d="M1634.4,480.1H1644.7M1649.2,480.1H1659.0M1663.9,480.1H1671.2M1675.7,480.1H1685.8M1692.3,480.1H1697.7M1725.1,480.1H1735.2M1753.8,480.1H1764.1M1770.3,480.1H1779.3M1783.6,480.1H1792.5M1798.8,480.1H1806.0M1810.2,480.1H1815.7M1820.5,480.1H1829.5M1834.0,480.1H1839.2M1843.8,480.1H1852.5M1858.4,480.1H1865.0M1870.7,480.1H1880.9M1886.4,480.1H1892.0M1921.5,480.1H1927.5M1933.1,480.1H1937.7M1944.2,480.1H1951.2M1975.9,480.1H1981.9M1986.5,480.1H1996.1" stroke="#1c1c1c" stroke-width="2" fill="none"/>
<path d="M1744.0,480.1H1749.2M1899.9,480.1H1904.9M1909.0,480.1H1916.2" stroke="#3a72cc" stroke-width="2.4" fill="none"/>
<path d="M1663.6,485.1H1669.6M1675.5,485.1H1681.2M1724.3,485.1H1735.2M1753.7,485.1H1763.0M1767.9,485.1H1778.4M1822.9,485.1H1830.8M1836.4,485.1H1842.9M1848.5,485.1H1858.0M1863.3,485.1H1870.8M1877.0,485.1H1885.7M1891.0,485.1H1895.9M1912.7,485.1H1917.8M1923.3,485.1H1929.0M1934.1,485.1H1943.5M1949.5,485.1H1958.3M1981.2,485.1H1986.7M1992.2,485.1H1999.7" stroke="#4d4d4d" stroke-width="2" fill="none"/>
<path d="M1742.0,485.1H1748.8M1899.9,485.1H1907.1" stroke="#3a72cc" stroke-width="2.4" fill="none"/>
<path d="M1657.2,490.0H1665.4M1671.2,490.0H1679.2M1716.1,490.0H1721.1M1725.2,490.0H1732.6M1737.7,490.0H1744.0M1758.8,490.0H1763.3M1769.6,490.0H1777.6M1826.4,490.0H1832.6M1836.7,490.0H1842.9M1848.4,490.0H1856.1M1860.8,490.0H1868.9M1873.1,490.0H1882.9M1887.3,490.0H1893.1M1911.4,490.0H1921.2M1927.2,490.0H1931.6M1936.6,490.0H1943.2M1947.7,490.0H1958.5M1983.4,490.0H1992.7" stroke="#1c1c1c" stroke-width="2" fill="none"/>
<path d="M1748.0,490.0H1753.2M1900.8,490.0H1906.0" stroke="#3a72cc" stroke-width="2.4" fill="none"/>
<path d="M1653.2,495.0H1662.4M1666.5,495.0H1672.2M1712.8,495.0H1719.5M1724.3,495.0H1731.2M1735.4,495.0H1739.7M1754.7,495.0H1763.9M1768.4,495.0H1774.2M1825.3,495.0H1831.8M1836.7,495.0H1847.5M1853.1,495.0H1857.3M1862.3,495.0H1870.9M1875.0,495.0H1881.4M1887.2,495.0H1897.2M1918.1,495.0H1924.8M1930.9,495.0H1937.6M1943.5,495.0H1949.0M1953.9,495.0H1958.3M1978.8,495.0H1984.3M1988.8,495.0H1996.1" stroke="#4d4d4d" stroke-width="2" fill="none"/>
<path d="M1743.8,495.0H1749.2M1907.8,495.0H1912.0" stroke="#3a72cc" stroke-width="2.4" fill="none"/>
<path d="M1652.0,500.0H1659.1M1665.6,500.0H1673.5M1710.9,500.0H1717.6M1721.8,500.0H1730.6M1735.5,500.0H1741.4M1745.5,500.0H1748.0M1760.8,500.0H1771.3M1777.0,500.0H1782.9M1825.2,500.0H1834.6M1840.4,500.0H1850.7M1854.8,500.0H1861.0M1866.0,500.0H1870.6M1876.8,500.0H1883.1M1889.0,500.0H1895.4M1909.7,500.0H1915.4M1919.5,500.0H1924.5M1930.0,500.0H1934.2M1939.0,500.0H1946.0M1951.3,500.0H1956.3M1980.7,500.0H1989.8M1995.5,500.0H2000.0" stroke="#1c1c1c" stroke-width="2" fill="none"/>
<path d="M1752.0,500.0H1756.0M1899.4,500.0H1904.9" stroke="#3a72cc" stroke-width="2.4" fill="none"/>
<text x="1665.78" y="594.70" font-size="36.8" fill="#000" >MIC determination</text>
<ellipse cx="1817.1" cy="687.5" rx="69.6" ry="75.9" fill="#f2f2f2" stroke="#b0b0b0" stroke-width="1"/>
<ellipse cx="1817.1" cy="686.3" rx="68.6" ry="71.5" fill="#e4e0c9" stroke="#6a6a6a" stroke-width="1"/>
<path d="M1816.5,628 C1827,628 1833,631 1833,640 C1833,652 1828,678 1823.5,690 C1820,694 1813,694 1809.5,690 C1805,678 1800,652 1800,640 C1800,631 1806,628 1816.5,628 Z" fill="#fdfaea"/>
<rect x="1812" y="637.9" width="9.6" height="94.6" fill="#fff" stroke="#555" stroke-width="0.7"/>
<line x1="1821.6" y1="637.9" x2="1821.6" y2="732.5" stroke="#222" stroke-width="0.9"/>
<rect x="1814.8" y="642.6" width="4.4" height="0.9" fill="#777"/>
<line x1="1811.6" y1="662.6" x2="1813.8" y2="662.6" stroke="#333" stroke-width="0.6"/><line x1="1819.4" y1="662.6" x2="1821.6" y2="662.6" stroke="#333" stroke-width="0.6"/>
<line x1="1811.6" y1="670.2" x2="1813.8" y2="670.2" stroke="#333" stroke-width="0.6"/><line x1="1819.4" y1="670.2" x2="1821.6" y2="670.2" stroke="#333" stroke-width="0.6"/>
<line x1="1811.6" y1="677.8" x2="1813.8" y2="677.8" stroke="#333" stroke-width="0.6"/><line x1="1819.4" y1="677.8" x2="1821.6" y2="677.8" stroke="#333" stroke-width="0.6"/>
<line x1="1811.6" y1="685.4" x2="1813.8" y2="685.4" stroke="#333" stroke-width="0.6"/><line x1="1819.4" y1="685.4" x2="1821.6" y2="685.4" stroke="#333" stroke-width="0.6"/>
<line x1="1811.6" y1="693.0" x2="1813.8" y2="693.0" stroke="#333" stroke-width="0.6"/><line x1="1819.4" y1="693.0" x2="1821.6" y2="693.0" stroke="#333" stroke-width="0.6"/>
<line x1="1811.6" y1="700.6" x2="1813.8" y2="700.6" stroke="#333" stroke-width="0.6"/><line x1="1819.4" y1="700.6" x2="1821.6" y2="700.6" stroke="#333" stroke-width="0.6"/>
<line x1="1811.6" y1="708.2" x2="1813.8" y2="708.2" stroke="#333" stroke-width="0.6"/><line x1="1819.4" y1="708.2" x2="1821.6" y2="708.2" stroke="#333" stroke-width="0.6"/>
<line x1="1811.6" y1="715.8" x2="1813.8" y2="715.8" stroke="#333" stroke-width="0.6"/><line x1="1819.4" y1="715.8" x2="1821.6" y2="715.8" stroke="#333" stroke-width="0.6"/>
<line x1="1811.6" y1="723.4" x2="1813.8" y2="723.4" stroke="#333" stroke-width="0.6"/><line x1="1819.4" y1="723.4" x2="1821.6" y2="723.4" stroke="#333" stroke-width="0.6"/>
<g transform="matrix(1,0,0,1.041,0,-37.839)"><text x="216.69" y="922.90" font-size="55.3" fill="#000" >C</text></g>
<rect x="449.45" y="1012.05" width="31.80" height="328.95" fill="#1a3c64" stroke="#000" stroke-width="1.9"/>
<rect x="515.65" y="1231.95" width="31.20" height="109.05" fill="#4875c8" stroke="#000" stroke-width="1.9"/>
<rect x="564.95" y="1254.45" width="31.50" height="86.55" fill="#4875c8" stroke="#000" stroke-width="1.9"/>
<rect x="614.85" y="1231.95" width="31.00" height="109.05" fill="#4875c8" stroke="#000" stroke-width="1.9"/>
<rect x="664.25" y="1254.45" width="31.10" height="86.55" fill="#4875c8" stroke="#000" stroke-width="1.9"/>
<rect x="730.25" y="1254.45" width="31.10" height="86.55" fill="#7898d5" stroke="#000" stroke-width="1.9"/>
<rect x="780.25" y="1231.95" width="30.60" height="109.05" fill="#7898d5" stroke="#000" stroke-width="1.9"/>
<rect x="829.75" y="1254.45" width="30.60" height="86.55" fill="#7898d5" stroke="#000" stroke-width="1.9"/>
<rect x="879.35" y="1231.95" width="30.50" height="109.05" fill="#7898d5" stroke="#000" stroke-width="1.9"/>
<g stroke="#000" stroke-width="1.9" fill="none">
<line x1="432.15" y1="1010.15" x2="432.15" y2="1341.00"/>
<line x1="423.1" y1="1341.00" x2="928.4" y2="1341.00"/>
<line x1="423.1" y1="1011.10" x2="432.15" y2="1011.10"/>
<line x1="423.1" y1="1066.10" x2="432.15" y2="1066.10"/>
<line x1="423.1" y1="1121.10" x2="432.15" y2="1121.10"/>
<line x1="423.1" y1="1176.10" x2="432.15" y2="1176.10"/>
<line x1="423.1" y1="1231.10" x2="432.15" y2="1231.10"/>
<line x1="423.1" y1="1286.10" x2="432.15" y2="1286.10"/>
</g>
<g transform="matrix(1,0,0,1.041,0,-41.943)"><text x="400.85" y="1023.00" font-size="34.5" fill="#000" >2</text></g>
<g transform="matrix(1,0,0,1.041,0,-44.198)"><text x="406.58" y="1078.00" font-size="34.5" fill="#000" >1</text><rect x="408.40" y="1074.52" width="6.80" height="4.68" fill="#fff"/><rect x="418.35" y="1074.52" width="6.58" height="4.68" fill="#fff"/></g>
<g transform="matrix(1,0,0,1.041,0,-46.453)"><text x="371.79" y="1133.00" font-size="34.5" fill="#000" >0.5</text></g>
<g transform="matrix(1,0,0,1.041,0,-48.708)"><text x="352.60" y="1188.00" font-size="34.5" fill="#000" >0.25</text></g>
<g transform="matrix(1,0,0,1.041,0,-50.963)"><text x="333.41" y="1243.00" font-size="34.5" fill="#000" >0.125</text><rect x="364.01" y="1239.52" width="6.80" height="4.68" fill="#fff"/><rect x="373.96" y="1239.52" width="6.58" height="4.68" fill="#fff"/></g>
<g transform="matrix(1,0,0,1.041,0,-53.218)"><text x="314.23" y="1298.00" font-size="34.5" fill="#000" >0.0625</text></g>
<g transform="matrix(1,0,0,1.041,0,-55.473)"><text x="295.04" y="1353.00" font-size="34.5" fill="#000" >0.03125</text><rect x="364.01" y="1349.52" width="6.80" height="4.68" fill="#fff"/><rect x="373.96" y="1349.52" width="6.58" height="4.68" fill="#fff"/></g>
<line x1="433" y1="1283.2" x2="923" y2="1283.2" stroke="#000" stroke-width="1.9" stroke-dasharray="5 3.4"/>
<line x1="509.9" y1="1137.8" x2="699.65" y2="1137.8" stroke="#000" stroke-width="1.9"/>
<line x1="726.7" y1="1138.3" x2="916.4" y2="1138.3" stroke="#000" stroke-width="1.9"/>
<g transform="matrix(1,0,0,1.041,0,-45.965)"><text x="583.44" y="1121.10" font-size="34.9" fill="#000" >LB</text></g>
<g transform="matrix(1,0,0,1.041,0,-45.957)"><text x="796.78" y="1120.90" font-size="34.3" fill="#000" >DC</text></g>
<text x="599.82" y="1180.94" font-size="23.5" stroke="#000" stroke-width="0.55" stroke-linejoin="round" >*</text>
<text x="816.32" y="1180.94" font-size="23.5" stroke="#000" stroke-width="0.55" stroke-linejoin="round" >*</text>
<g transform="matrix(1,0,0,1.041,0,-57.138)"><text x="521.66" y="1393.60" font-size="34.5" fill="#000" >1</text><rect x="523.48" y="1390.12" width="6.80" height="4.68" fill="#fff"/><rect x="533.43" y="1390.12" width="6.58" height="4.68" fill="#fff"/></g>
<g transform="matrix(1,0,0,1.041,0,-57.138)"><text x="571.11" y="1393.60" font-size="34.5" fill="#000" >2</text></g>
<g transform="matrix(1,0,0,1.041,0,-57.138)"><text x="620.76" y="1393.60" font-size="34.5" fill="#000" >3</text></g>
<g transform="matrix(1,0,0,1.041,0,-57.138)"><text x="670.21" y="1393.60" font-size="34.5" fill="#000" >4</text></g>
<g transform="matrix(1,0,0,1.041,0,-57.138)"><text x="736.21" y="1393.60" font-size="34.5" fill="#000" >1</text><rect x="738.03" y="1390.12" width="6.80" height="4.68" fill="#fff"/><rect x="747.98" y="1390.12" width="6.58" height="4.68" fill="#fff"/></g>
<g transform="matrix(1,0,0,1.041,0,-57.138)"><text x="785.96" y="1393.60" font-size="34.5" fill="#000" >2</text></g>
<g transform="matrix(1,0,0,1.041,0,-57.138)"><text x="835.46" y="1393.60" font-size="34.5" fill="#000" >3</text></g>
<g transform="matrix(1,0,0,1.041,0,-57.138)"><text x="885.01" y="1393.60" font-size="34.5" fill="#000" >4</text></g>
<line x1="493.1" y1="1421.1" x2="930.5" y2="1421.1" stroke="#000" stroke-width="1.9"/>
<text x="490.56" y="1475.40" font-size="34.6" fill="#000" >Replicate evolved population</text>
<g transform="translate(276.60,1300.65) rotate(-90) matrix(1,0,0,1.041,0,0.000)"><text x="0.00" y="0.00" font-size="34.45" fill="#000" >CIP MIC (µg/mL)</text></g>
<g transform="translate(475.80,1383.70) rotate(-45) matrix(1,0,0,1.041,0,0.000)"><text x="-132.32" y="0.00" font-size="34.5" fill="#000" >NfxB177</text><rect x="-55.73" y="-3.48" width="6.80" height="4.68" fill="#fff"/><rect x="-45.79" y="-3.48" width="6.58" height="4.68" fill="#fff"/></g>
<rect x="564.0" y="1376.9" width="0.9" height="3.2" fill="#b0b0b0"/>
<rect x="1402.1" y="1372.6" width="0.8" height="3.0" fill="#e0e0e0"/>
<g transform="matrix(1,0,0,1.041,0,-37.851)"><text x="1081.36" y="923.20" font-size="55.3" fill="#000" >D</text></g>
<rect x="1287.15" y="1129.25" width="31.60" height="215.90" fill="#203862" stroke="#000" stroke-width="1.9"/>
<rect x="1353.15" y="1042.25" width="31.70" height="302.90" fill="#4875c8" stroke="#000" stroke-width="1.9"/>
<rect x="1403.15" y="1031.15" width="31.40" height="314.00" fill="#4875c8" stroke="#000" stroke-width="1.9"/>
<rect x="1452.35" y="1041.25" width="31.40" height="303.90" fill="#4875c8" stroke="#000" stroke-width="1.9"/>
<rect x="1502.05" y="1098.55" width="31.50" height="246.60" fill="#4875c8" stroke="#000" stroke-width="1.9"/>
<rect x="1568.15" y="1061.25" width="31.40" height="283.90" fill="#7898d5" stroke="#000" stroke-width="1.9"/>
<rect x="1617.25" y="1061.25" width="31.30" height="283.90" fill="#7898d5" stroke="#000" stroke-width="1.9"/>
<rect x="1667.25" y="1079.35" width="31.30" height="265.80" fill="#7898d5" stroke="#000" stroke-width="1.9"/>
<rect x="1716.95" y="1085.75" width="30.70" height="259.40" fill="#7898d5" stroke="#000" stroke-width="1.9"/>
<g stroke="#000" stroke-width="1.9" fill="none">
<line x1="1270.05" y1="1014.20" x2="1270.05" y2="1345.15"/>
<line x1="1261.1" y1="1345.15" x2="1766.2" y2="1345.15"/>
<line x1="1261.1" y1="1290.15" x2="1270.05" y2="1290.15"/>
<line x1="1261.1" y1="1235.15" x2="1270.05" y2="1235.15"/>
<line x1="1261.1" y1="1180.15" x2="1270.05" y2="1180.15"/>
<line x1="1261.1" y1="1125.15" x2="1270.05" y2="1125.15"/>
<line x1="1261.1" y1="1070.15" x2="1270.05" y2="1070.15"/>
<line x1="1261.1" y1="1015.15" x2="1270.05" y2="1015.15"/>
</g>
<g transform="matrix(1,0,0,1.041,0,-55.639)"><text x="1210.19" y="1357.05" font-size="34.5" fill="#000" >0.0</text></g>
<g transform="matrix(1,0,0,1.041,0,-53.384)"><text x="1210.58" y="1302.05" font-size="34.5" fill="#000" >0.2</text></g>
<g transform="matrix(1,0,0,1.041,0,-51.129)"><text x="1209.85" y="1247.05" font-size="34.5" fill="#000" >0.4</text></g>
<g transform="matrix(1,0,0,1.041,0,-48.874)"><text x="1210.36" y="1192.05" font-size="34.5" fill="#000" >0.6</text></g>
<g transform="matrix(1,0,0,1.041,0,-46.619)"><text x="1210.34" y="1137.05" font-size="34.5" fill="#000" >0.8</text></g>
<g transform="matrix(1,0,0,1.041,0,-44.364)"><text x="1210.19" y="1082.05" font-size="34.5" fill="#000" >1.0</text><rect x="1212.02" y="1078.57" width="6.80" height="4.68" fill="#fff"/><rect x="1221.96" y="1078.57" width="6.58" height="4.68" fill="#fff"/></g>
<g transform="matrix(1,0,0,1.041,0,-42.109)"><text x="1210.58" y="1027.05" font-size="34.5" fill="#000" >1.2</text><rect x="1212.40" y="1023.57" width="6.80" height="4.68" fill="#fff"/><rect x="1222.35" y="1023.57" width="6.58" height="4.68" fill="#fff"/></g>
<line x1="1271" y1="1071.6" x2="1762.6" y2="1071.6" stroke="#000" stroke-width="1.9" stroke-dasharray="4.8 3.4"/>
<g stroke="#000" stroke-width="1.8"><line x1="1369.25" y1="1035.5" x2="1369.25" y2="1047.25"/><line x1="1361.05" y1="1035.5" x2="1377.45" y2="1035.5"/><line x1="1361.05" y1="1047.25" x2="1377.45" y2="1047.25"/></g>
<g stroke="#000" stroke-width="1.8"><line x1="1418.5" y1="1022.0" x2="1418.5" y2="1037.25"/><line x1="1410.3" y1="1022.0" x2="1426.7" y2="1022.0"/><line x1="1410.3" y1="1037.25" x2="1426.7" y2="1037.25"/></g>
<g stroke="#000" stroke-width="1.8"><line x1="1468.2" y1="1036.2" x2="1468.2" y2="1041.4"/><line x1="1460.0" y1="1036.2" x2="1476.4" y2="1036.2"/><line x1="1460.0" y1="1041.4" x2="1476.4" y2="1041.4"/></g>
<g stroke="#000" stroke-width="1.8"><line x1="1517.6" y1="1092.0" x2="1517.6" y2="1103.6"/><line x1="1509.3999999999999" y1="1092.0" x2="1525.8" y2="1092.0"/><line x1="1509.3999999999999" y1="1103.6" x2="1525.8" y2="1103.6"/></g>
<g stroke="#000" stroke-width="1.8"><line x1="1583.75" y1="1055.5" x2="1583.75" y2="1065.25"/><line x1="1575.55" y1="1055.5" x2="1591.95" y2="1055.5"/><line x1="1575.55" y1="1065.25" x2="1591.95" y2="1065.25"/></g>
<g stroke="#000" stroke-width="1.8"><line x1="1633.25" y1="1055.0" x2="1633.25" y2="1065.25"/><line x1="1625.05" y1="1055.0" x2="1641.45" y2="1055.0"/><line x1="1625.05" y1="1065.25" x2="1641.45" y2="1065.25"/></g>
<g stroke="#000" stroke-width="1.8"><line x1="1682.8" y1="1075.5" x2="1682.8" y2="1081.0"/><line x1="1674.6" y1="1075.5" x2="1691.0" y2="1075.5"/><line x1="1674.6" y1="1081.0" x2="1691.0" y2="1081.0"/></g>
<g stroke="#000" stroke-width="1.8"><line x1="1732.3" y1="1084.3" x2="1732.3" y2="1086.5"/><line x1="1724.1" y1="1084.3" x2="1740.5" y2="1084.3"/><line x1="1724.1" y1="1086.5" x2="1740.5" y2="1086.5"/></g>
<circle cx="1291.5" cy="1127.4" r="5.1" fill="#000"/>
<circle cx="1303.1" cy="1126.25" r="5.1" fill="#000"/>
<circle cx="1314.75" cy="1126.5" r="5.1" fill="#000"/>
<circle cx="1357.5" cy="1037.25" r="5.1" fill="#000"/>
<circle cx="1357.5" cy="1048.5" r="5.1" fill="#000"/>
<circle cx="1380.75" cy="1038.0" r="5.1" fill="#000"/>
<circle cx="1407.0" cy="1024.25" r="5.1" fill="#000"/>
<circle cx="1418.5" cy="1038.75" r="5.1" fill="#000"/>
<circle cx="1430.5" cy="1026.5" r="5.1" fill="#000"/>
<circle cx="1456.5" cy="1043.2" r="5.1" fill="#000"/>
<circle cx="1468.4" cy="1036.8" r="5.1" fill="#000"/>
<circle cx="1479.9" cy="1038.65" r="5.1" fill="#000"/>
<circle cx="1506.0" cy="1104.2" r="5.1" fill="#000"/>
<circle cx="1517.5" cy="1093.0" r="5.1" fill="#000"/>
<circle cx="1529.3" cy="1094.5" r="5.1" fill="#000"/>
<circle cx="1572.0" cy="1064.5" r="5.1" fill="#000"/>
<circle cx="1583.75" cy="1054.75" r="5.1" fill="#000"/>
<circle cx="1595.5" cy="1062.0" r="5.1" fill="#000"/>
<circle cx="1621.5" cy="1064.0" r="5.1" fill="#000"/>
<circle cx="1633.25" cy="1054.25" r="5.1" fill="#000"/>
<circle cx="1645.0" cy="1061.75" r="5.1" fill="#000"/>
<circle cx="1671.0" cy="1081.0" r="5.1" fill="#000"/>
<circle cx="1682.75" cy="1075.0" r="5.1" fill="#000"/>
<circle cx="1694.5" cy="1078.75" r="5.1" fill="#000"/>
<circle cx="1720.75" cy="1088.0" r="5.1" fill="#000"/>
<circle cx="1732.25" cy="1084.0" r="5.1" fill="#000"/>
<circle cx="1744.0" cy="1085.0" r="5.1" fill="#000"/>
<text x="1348.67" y="1015.34" font-size="23.5" stroke="#000" stroke-width="0.55" stroke-linejoin="round" letter-spacing="1.55">****</text>
<text x="1398.67" y="1004.29" font-size="23.5" stroke="#000" stroke-width="0.55" stroke-linejoin="round" letter-spacing="1.55">****</text>
<text x="1448.72" y="1016.49" font-size="23.5" stroke="#000" stroke-width="0.55" stroke-linejoin="round" letter-spacing="1.55">****</text>
<text x="1496.57" y="1073.14" font-size="23.5" stroke="#000" stroke-width="0.55" stroke-linejoin="round" letter-spacing="1.55">****</text>
<text x="1563.77" y="1041.34" font-size="23.5" stroke="#000" stroke-width="0.55" stroke-linejoin="round" letter-spacing="1.55">****</text>
<text x="1611.77" y="1040.34" font-size="23.5" stroke="#000" stroke-width="0.55" stroke-linejoin="round" letter-spacing="1.55">****</text>
<text x="1662.17" y="1057.34" font-size="23.5" stroke="#000" stroke-width="0.55" stroke-linejoin="round" letter-spacing="1.55">****</text>
<text x="1712.07" y="1064.34" font-size="23.5" stroke="#000" stroke-width="0.55" stroke-linejoin="round" letter-spacing="1.55">****</text>
<line x1="1347.9" y1="957.0" x2="1537.8" y2="957.0" stroke="#000" stroke-width="1.9"/>
<line x1="1564.9" y1="957.5" x2="1754.65" y2="957.5" stroke="#000" stroke-width="1.9"/>
<g transform="matrix(1,0,0,1.041,0,-38.548)"><text x="1421.24" y="940.20" font-size="34.9" fill="#000" >LB</text></g>
<g transform="matrix(1,0,0,1.041,0,-38.565)"><text x="1634.63" y="940.60" font-size="34.3" fill="#000" >DC</text></g>
<g transform="matrix(1,0,0,1.041,0,-57.129)"><text x="1359.41" y="1393.40" font-size="34.5" fill="#000" >1</text><rect x="1361.23" y="1389.92" width="6.80" height="4.68" fill="#fff"/><rect x="1371.18" y="1389.92" width="6.58" height="4.68" fill="#fff"/></g>
<g transform="matrix(1,0,0,1.041,0,-57.129)"><text x="1409.26" y="1393.40" font-size="34.5" fill="#000" >2</text></g>
<g transform="matrix(1,0,0,1.041,0,-57.129)"><text x="1458.46" y="1393.40" font-size="34.5" fill="#000" >3</text></g>
<g transform="matrix(1,0,0,1.041,0,-57.129)"><text x="1508.21" y="1393.40" font-size="34.5" fill="#000" >4</text></g>
<g transform="matrix(1,0,0,1.041,0,-57.129)"><text x="1574.26" y="1393.40" font-size="34.5" fill="#000" >1</text><rect x="1576.08" y="1389.92" width="6.80" height="4.68" fill="#fff"/><rect x="1586.03" y="1389.92" width="6.58" height="4.68" fill="#fff"/></g>
<g transform="matrix(1,0,0,1.041,0,-57.129)"><text x="1623.31" y="1393.40" font-size="34.5" fill="#000" >2</text></g>
<g transform="matrix(1,0,0,1.041,0,-57.129)"><text x="1673.31" y="1393.40" font-size="34.5" fill="#000" >3</text></g>
<g transform="matrix(1,0,0,1.041,0,-57.129)"><text x="1722.71" y="1393.40" font-size="34.5" fill="#000" >4</text></g>
<line x1="1331.2" y1="1420.9" x2="1768.5" y2="1420.9" stroke="#000" stroke-width="1.9"/>
<text x="1328.36" y="1475.80" font-size="34.6" fill="#000" >Replicate evolved population</text>
<g transform="translate(1192.80,1291.12) rotate(-90)"><text x="0.00" y="0.00" font-size="34.4" fill="#000" >Relative fitness</text></g>
<g transform="translate(1314.00,1380.20) rotate(-45) matrix(1,0,0,1.041,0,0.000)"><text x="-132.32" y="0.00" font-size="34.5" fill="#000" >NfxB177</text><rect x="-55.73" y="-3.48" width="6.80" height="4.68" fill="#fff"/><rect x="-45.79" y="-3.48" width="6.58" height="4.68" fill="#fff"/></g>
</svg>
</body></html>
